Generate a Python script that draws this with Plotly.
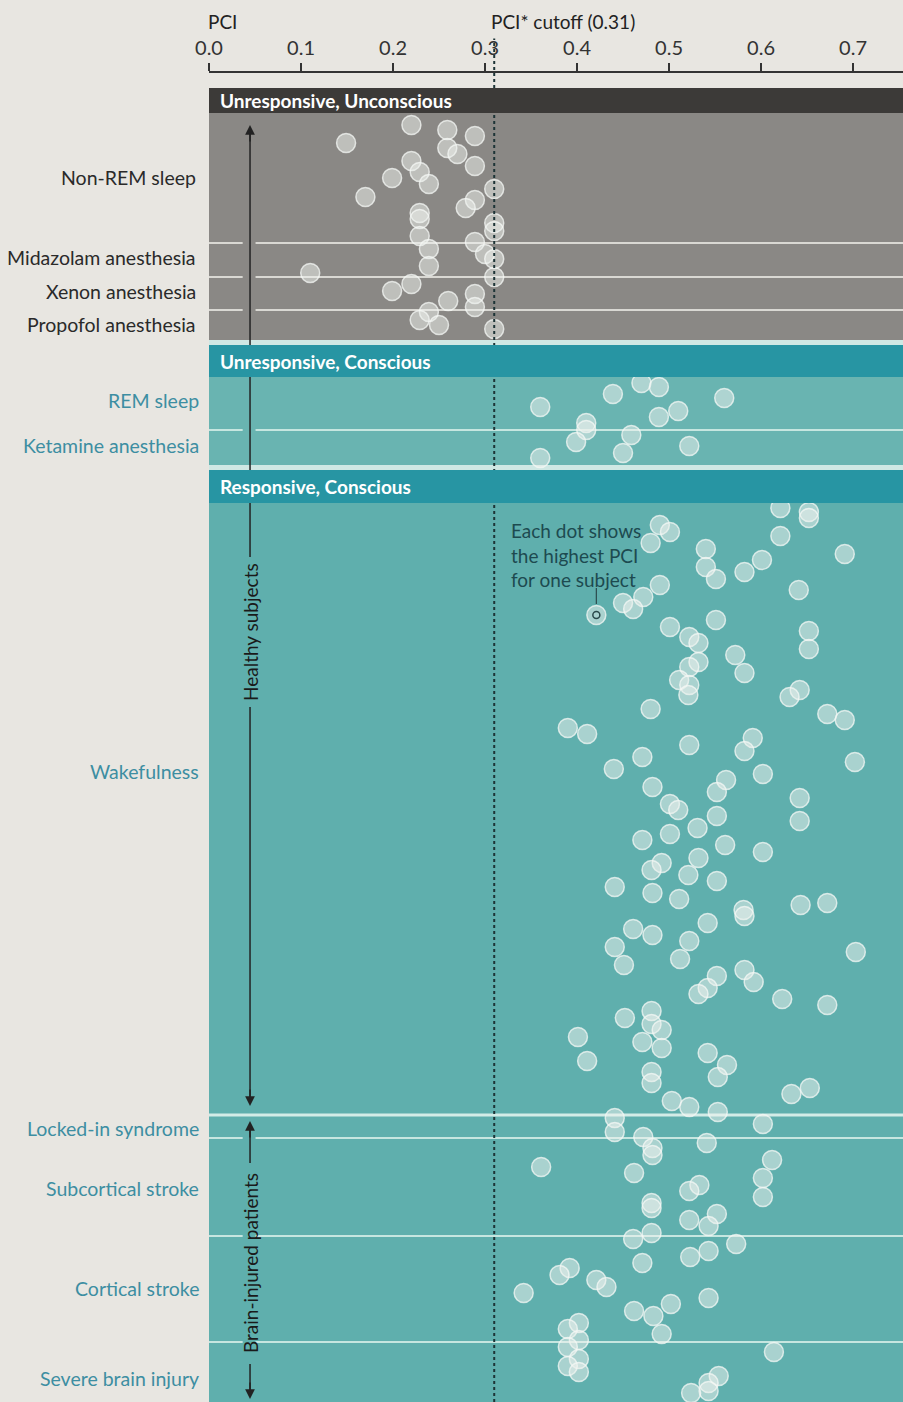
import plotly.graph_objects as go

FONT = "Lato, Roboto, Liberation Sans, sans-serif"

# ---------------- data: PCI value and vertical position (px from top of page) ----------------
nonrem_pci = [0.149, 0.220, 0.259, 0.289, 0.259, 0.270, 0.220, 0.289, 0.229, 0.199, 0.239,
              0.170, 0.310, 0.289, 0.279, 0.229, 0.229, 0.310, 0.310, 0.229, 0.289]
nonrem_y = [143, 125, 130, 136, 148, 154, 161, 166, 172, 178, 184,
            197, 189, 200, 208, 213, 219, 223, 231, 236, 242]
midazolam_pci = [0.239, 0.300, 0.310, 0.239, 0.110, 0.310]
midazolam_y = [249, 254, 259, 266, 273, 277]
xenon_pci = [0.220, 0.199, 0.289, 0.260, 0.289]
xenon_y = [284, 291, 294, 301, 307]
propofol_pci = [0.239, 0.229, 0.250, 0.310]
propofol_y = [312, 320, 325, 329]

rem_pci = [0.360, 0.439, 0.470, 0.489, 0.560, 0.510, 0.489, 0.410]
rem_y = [407, 394, 383, 387, 398, 411, 417, 423]
ketamine_pci = [0.410, 0.399, 0.459, 0.450, 0.522, 0.360]
ketamine_y = [430, 442, 435, 453, 446, 458]

wake_pci = [0.621, 0.652, 0.652, 0.490, 0.501, 0.621, 0.480, 0.540, 0.691, 0.601, 0.540,
            0.582, 0.551, 0.490, 0.641, 0.472, 0.450, 0.461, 0.501, 0.551, 0.652, 0.522,
            0.532, 0.652, 0.572, 0.532, 0.522, 0.582, 0.511, 0.522, 0.521, 0.642, 0.631,
            0.480, 0.672, 0.691, 0.390, 0.411, 0.591, 0.582, 0.522, 0.471, 0.702, 0.440,
            0.602, 0.562, 0.552, 0.482, 0.642, 0.501, 0.510, 0.552, 0.642, 0.531, 0.471,
            0.501, 0.561, 0.602, 0.532, 0.492, 0.481, 0.521, 0.552, 0.441, 0.482, 0.511,
            0.643, 0.672, 0.581, 0.582, 0.542, 0.461, 0.482, 0.522, 0.441, 0.703, 0.512,
            0.451, 0.582, 0.552, 0.592, 0.542, 0.532, 0.623, 0.672, 0.481, 0.452, 0.481,
            0.492, 0.401, 0.471, 0.492, 0.542, 0.411, 0.563, 0.481, 0.553, 0.481, 0.653,
            0.633, 0.503, 0.522, 0.553]
wake_y = [508, 512, 518, 525, 532, 536, 543, 549, 554, 560, 567,
          572, 579, 585, 590, 597, 603, 609, 627, 620, 631, 637,
          643, 649, 655, 662, 667, 673, 680, 685, 695, 690, 697,
          709, 714, 720, 728, 734, 738, 751, 745, 757, 762, 769,
          774, 780, 792, 787, 798, 804, 810, 816, 821, 828, 840,
          834, 845, 852, 858, 863, 870, 875, 881, 887, 893, 899,
          905, 903, 910, 916, 923, 929, 935, 941, 947, 952, 959,
          965, 970, 976, 982, 988, 994, 999, 1005, 1011, 1018, 1024,
          1030, 1037, 1042, 1048, 1053, 1061, 1065, 1072, 1077, 1083, 1088,
          1094, 1101, 1107, 1112]
example_pci = [0.421]
example_y = [615]

lockedin_pci = [0.441, 0.441, 0.602, 0.472]
lockedin_y = [1118, 1132, 1124, 1137]
subcort_pci = [0.482, 0.482, 0.541, 0.361, 0.612, 0.462, 0.602, 0.533, 0.522, 0.602,
               0.481, 0.481, 0.552, 0.522, 0.543, 0.481]
subcort_y = [1148, 1155, 1143, 1167, 1160, 1173, 1178, 1185, 1191, 1197,
             1203, 1208, 1214, 1220, 1226, 1233]
cortical_pci = [0.461, 0.573, 0.543, 0.523, 0.471, 0.392, 0.381, 0.421, 0.432, 0.342,
                0.543, 0.502, 0.462, 0.483, 0.492, 0.402, 0.390, 0.402]
cortical_y = [1239, 1244, 1251, 1257, 1263, 1268, 1275, 1280, 1287, 1293,
              1298, 1304, 1311, 1316, 1334, 1323, 1329, 1340]
severe_pci = [0.390, 0.402, 0.390, 0.402, 0.614, 0.554, 0.543, 0.543, 0.524]
severe_y = [1347, 1359, 1366, 1372, 1352, 1376, 1383, 1391, 1393]

cutoff = 0.31
tick_vals = [0.0, 0.1, 0.2, 0.3, 0.4, 0.5, 0.6, 0.7]
tick_text = ["0.0", "0.1", "0.2", "0.3", "0.4", "0.5", "0.6", "0.7"]

# category labels and their vertical positions
dark_labels = ["Non-REM sleep", "Midazolam anesthesia", "Xenon anesthesia", "Propofol anesthesia"]
dark_label_y = [177, 257, 291, 324]
teal_labels = ["REM sleep", "Ketamine anesthesia", "Wakefulness", "Locked-in syndrome",
               "Subcortical stroke", "Cortical stroke", "Severe brain injury"]
teal_label_y = [400, 445, 771, 1128, 1188, 1288, 1378]

# section bands: (top, bottom)
headers = [("Unresponsive, Unconscious", 88, 113, "#3c3a38"),
           ("Unresponsive, Conscious", 345, 377, "#2795a3"),
           ("Responsive, Conscious", 470, 503, "#2795a3")]
areas = [(113, 340, "#8a8885"), (377, 465, "#69b4b1"), (503, 1402, "#5fafad")]
gaps = [(340, 345), (465, 470)]
gray_separators = [243, 277, 310]
teal_separators = [430, 1138, 1236, 1342]
X_MAX = 0.7543
ARROW_X = 0.0446

fig = go.Figure()

groups = [(nonrem_pci, nonrem_y), (midazolam_pci, midazolam_y), (xenon_pci, xenon_y),
          (propofol_pci, propofol_y), (rem_pci, rem_y), (ketamine_pci, ketamine_y),
          (wake_pci, wake_y), (lockedin_pci, lockedin_y), (subcort_pci, subcort_y),
          (cortical_pci, cortical_y), (severe_pci, severe_y), (example_pci, example_y)]
for px, py in groups:
    fig.add_trace(go.Scatter(
        x=px, y=py, mode="markers", hoverinfo="skip", showlegend=False,
        marker=dict(size=19, color="rgba(238,242,238,0.52)",
                    line=dict(color="rgba(245,248,245,0.75)", width=1.5))))
# small ring marking the example dot
fig.add_trace(go.Scatter(x=example_pci, y=example_y, mode="markers", hoverinfo="skip",
                         showlegend=False,
                         marker=dict(size=7, color="rgba(0,0,0,0)",
                                     line=dict(color="#2b4a4c", width=1.5))))

shapes = []
for y0, y1, col in areas:
    shapes.append(dict(type="rect", xref="paper", yref="y", x0=0, x1=1, y0=y0, y1=y1,
                       fillcolor=col, line=dict(width=0), layer="below"))
for y0, y1 in gaps:
    shapes.append(dict(type="rect", xref="paper", yref="y", x0=0, x1=1, y0=y0, y1=y1,
                       fillcolor="#cfe8e4", line=dict(width=0), layer="below"))
for yy in gray_separators:
    for xa, xb in [(0, ARROW_X - 0.008), (ARROW_X + 0.006, X_MAX)]:
        shapes.append(dict(type="line", xref="x", yref="y", x0=xa, x1=xb, y0=yy, y1=yy,
                           line=dict(color="#d9d8d3", width=2), layer="below"))
for yy in teal_separators:
    for xa, xb in [(0, ARROW_X - 0.008), (ARROW_X + 0.006, X_MAX)]:
        shapes.append(dict(type="line", xref="x", yref="y", x0=xa, x1=xb, y0=yy, y1=yy,
                           line=dict(color="#c6e6e0", width=2), layer="below"))
shapes.append(dict(type="line", xref="x", yref="y", x0=0, x1=X_MAX, y0=1115, y1=1115,
                   line=dict(color="#d3ece7", width=3), layer="below"))
# cut-off dotted line
shapes.append(dict(type="line", xref="x", yref="paper", x0=cutoff, x1=cutoff, y0=0, y1=1.026,
                   line=dict(color="#1d3436", width=2, dash="dot"), layer="above"))
# vertical bracket lines
for y0, y1 in [(128, 557), (707, 1103), (1125, 1163), (1364, 1396)]:
    shapes.append(dict(type="line", xref="x", yref="y", x0=ARROW_X, x1=ARROW_X, y0=y0, y1=y1,
                       line=dict(color="#222222", width=1.5), layer="above"))
for text, y0, y1, col in headers:
    shapes.append(dict(type="rect", xref="paper", yref="y", x0=0, x1=1, y0=y0, y1=y1,
                       fillcolor=col, line=dict(width=0), layer="above"))
# leader for the example dot
shapes.append(dict(type="line", xref="x", yref="y", x0=example_pci[0], x1=example_pci[0],
                   y0=588, y1=604, line=dict(color="#2b4a4c", width=1.2), layer="above"))

ann = []
for text, y0, y1, col in headers:
    ann.append(dict(text=f"<b>{text}</b>", xref="paper", yref="y", x=0, y=(y0 + y1) / 2,
                    xanchor="left", yanchor="middle", xshift=9, showarrow=False,
                    font=dict(family=FONT, size=19, color="white")))
for lab, yy in zip(dark_labels, dark_label_y):
    ann.append(dict(text=lab, xref="paper", yref="y", x=0, y=yy, xanchor="right",
                    yanchor="middle", xshift=-11, showarrow=False,
                    font=dict(family=FONT, size=19.5, color="#2a2a2a")))
for lab, yy in zip(teal_labels, teal_label_y):
    ann.append(dict(text=lab, xref="paper", yref="y", x=0, y=yy, xanchor="right",
                    yanchor="middle", xshift=-8, showarrow=False,
                    font=dict(family=FONT, size=19.5, color="#3d8ea2")))
# bracket labels
ann.append(dict(text="Healthy subjects", xref="x", yref="y", x=ARROW_X, y=632, textangle=-90,
                showarrow=False, font=dict(family=FONT, size=19, color="#1a1a1a")))
ann.append(dict(text="Brain-injured patients", xref="x", yref="y", x=ARROW_X, y=1263,
                textangle=-90, showarrow=False, font=dict(family=FONT, size=19, color="#1a1a1a")))
# arrowheads
for yy, ay in [(125, 18), (1106, -18), (1121, 18), (1399, -18)]:
    ann.append(dict(text="", xref="x", yref="y", x=ARROW_X, y=yy, ax=0, ay=ay,
                    showarrow=True, arrowhead=2, arrowsize=1.3, arrowwidth=1.5,
                    arrowcolor="#222222"))
# note
ann.append(dict(text="Each dot shows<br>the highest PCI<br>for one subject", xref="x", yref="y",
                x=0.3265, y=555, xanchor="left", yanchor="middle", align="left",
                showarrow=False, font=dict(family=FONT, size=19, color="#1d4a50")))
# axis titles
ann.append(dict(text="PCI", xref="paper", yref="paper", x=0, y=1.0385, xanchor="left",
                yanchor="middle", xshift=-3, showarrow=False,
                font=dict(family=FONT, size=19, color="#222222")))
ann.append(dict(text="PCI* cutoff (0.31)", xref="x", yref="paper", x=cutoff, y=1.0385,
                xanchor="left", yanchor="middle", xshift=-5, showarrow=False,
                font=dict(family=FONT, size=19, color="#222222")))

fig.update_layout(
    width=903, height=1402,
    margin=dict(l=209, r=0, t=73, b=0),
    paper_bgcolor="#e8e6e1", plot_bgcolor="#e8e6e1",
    shapes=shapes, annotations=ann, showlegend=False,
    xaxis=dict(range=[0, X_MAX], side="top", showline=True, linecolor="#333333", linewidth=2,
               ticks="outside", ticklen=8, tickwidth=1.5, tickcolor="#333333",
               tickvals=tick_vals, ticktext=tick_text, showgrid=False, zeroline=False,
               tickfont=dict(family=FONT, size=20, color="#333333"), fixedrange=True),
    yaxis=dict(range=[1402, 73], visible=False, showgrid=False, zeroline=False, fixedrange=True),
)

fig.write_html("out.html", config={"displayModeBar": False},
               post_script="document.body.style.margin='0';document.body.style.overflow='hidden';")
